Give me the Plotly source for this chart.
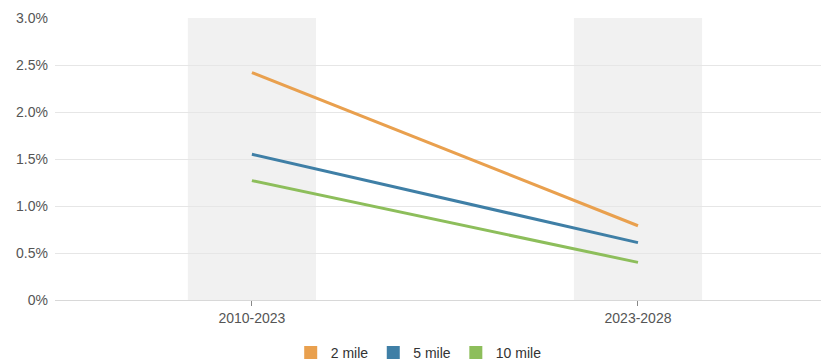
import plotly.graph_objects as go

categories = ["2010-2023", "2023-2028"]
series_names = ["2 mile", "5 mile", "10 mile"]
values_2mile = [2.42, 0.79]
values_5mile = [1.55, 0.61]
values_10mile = [1.27, 0.40]
colors = ["#e9a04e", "#3f7fa6", "#8dbe5b"]
y_ticks = [0, 0.5, 1.0, 1.5, 2.0, 2.5, 3.0]
y_tick_labels = ["0%", "0.5%", "1.0%", "1.5%", "2.0%", "2.5%", "3.0%"]

series_values = [values_2mile, values_5mile, values_10mile]

fig = go.Figure()
x_idx = list(range(len(categories)))
for name, vals, col in zip(series_names, series_values, colors):
    fig.add_trace(go.Scatter(x=x_idx, y=vals, mode="lines", name=name,
                             line=dict(color=col, width=3), showlegend=False,
                             hoverinfo="skip"))
    fig.add_trace(go.Scatter(x=[None], y=[None], mode="markers", name=name,
                             marker=dict(symbol="square", size=13, color=col),
                             showlegend=True))

half = 0.166
for i in x_idx:
    fig.add_shape(type="rect", xref="x", yref="paper", x0=i - half, x1=i + half,
                  y0=0, y1=1, fillcolor="#f1f1f1", line_width=0, layer="below")

fig.update_layout(
    width=821, height=363,
    margin=dict(l=55, r=0, t=18, b=63),
    paper_bgcolor="white", plot_bgcolor="white",
    font=dict(family="Liberation Sans, Arial, sans-serif", size=14, color="#555555"),
    showlegend=True,
    legend=dict(orientation="h", x=0.51, xanchor="center", xref="container",
                y=0.0275, yanchor="middle", yref="container",
                font=dict(size=14, color="#333333"), itemwidth=30,
                tracegroupgap=0),
)
fig.update_xaxes(range=[-0.51, 1.474], tickmode="array", tickvals=x_idx,
                 ticktext=categories, showgrid=False, zeroline=False,
                 ticks="outside", ticklen=5, tickcolor="#888888",
                 showline=False, fixedrange=True)
fig.update_yaxes(range=[0, 3.0], tickmode="array", tickvals=y_ticks,
                 ticktext=y_tick_labels, showgrid=True, gridcolor="#e6e6e6",
                 gridwidth=1, zeroline=True, zerolinecolor="#d8d8d8",
                 zerolinewidth=1, ticks="", ticklabelstandoff=6,
                 fixedrange=True)

fig.write_html("out.html")
